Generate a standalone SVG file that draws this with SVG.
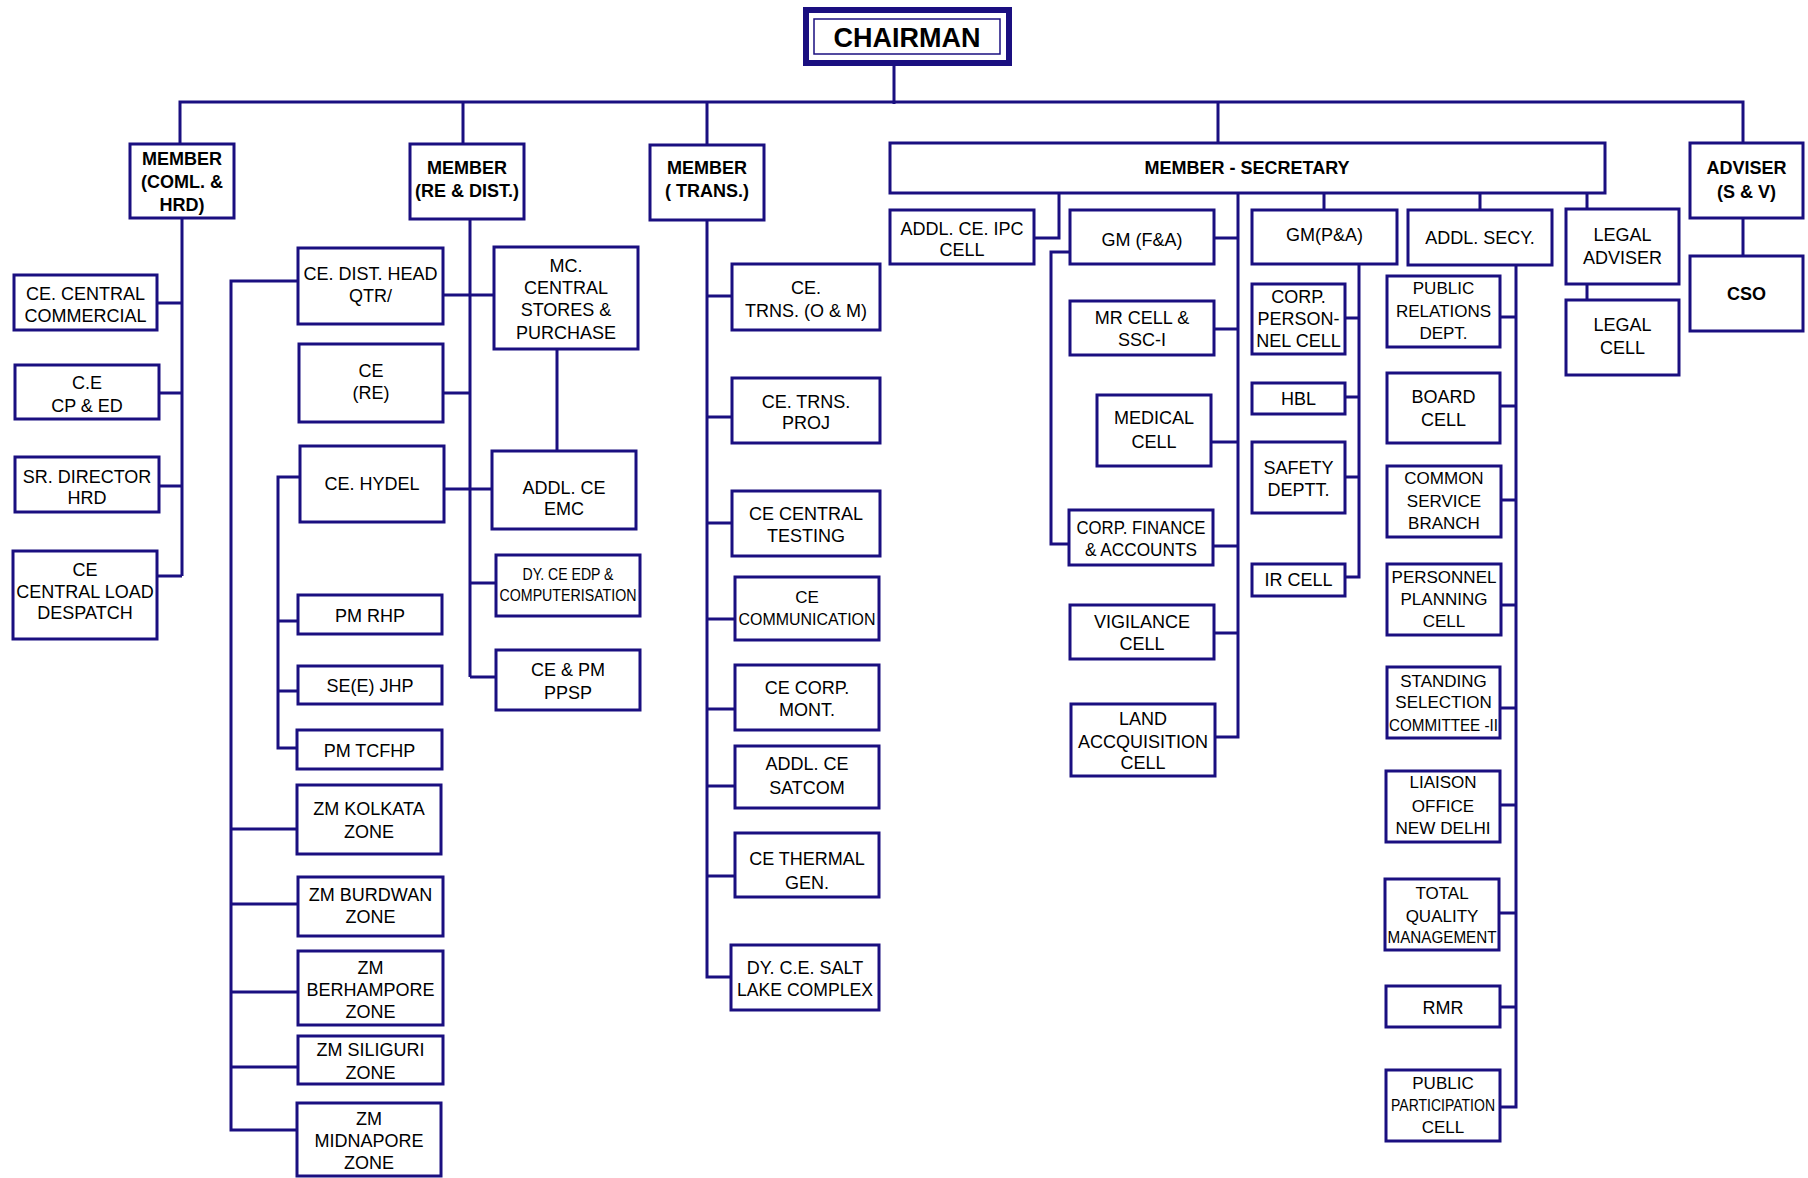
<svg xmlns="http://www.w3.org/2000/svg" width="1808" height="1178" viewBox="0 0 1808 1178">
<style>
.bg{fill:#fff}
.box{fill:#fff;stroke:#1a0f80;stroke-width:3}
.conn{fill:none;stroke:#1a0f80;stroke-width:3;stroke-linejoin:miter}
text{font-family:"Liberation Sans",Arial,sans-serif;font-size:18px;text-anchor:middle;fill:#000}
.b{font-weight:bold}
.s{font-size:17px}
</style>
<rect class="bg" x="0" y="0" width="1808" height="1178"/>
<g id="connectors">
<path class="conn" d="M180,144 V102 H1743 V143 M894,66 V104 M463,102 V144 M707,102 V145 M1218,102 V143
M182,218 V576 M157,303 H182 M159,393 H182 M159,486 H182 M157,576 H182
M470,219 V677 M443,295 H494 M443,393 H470 M444,489 H492 M470,583 H496 M470,677 H496
M557,349 V451
M298,281 H231 V1130 H297 M231,829 H297 M231,904 H298 M231,992 H298 M231,1067 H298
M300,477 H278 V748 H297 M278,621 H298 M278,691 H298
M707,220 V977 H731 M707,296 H732 M707,417 H732 M707,523 H732 M707,619 H735 M707,709 H735 M707,786 H735 M707,876 H735
M1059,193 V238 H1034 M1238,193 V737 H1215 M1214,238 H1238 M1214,329 H1238 M1211,442 H1238 M1213,546 H1238 M1214,633 H1238
M1070,252 H1051 V544 H1069
M1324,193 V210 M1359,264 V577 H1345 M1345,318 H1359 M1345,397 H1359 M1345,477 H1359
M1480,193 V210 M1516,265 V1107 H1500 M1500,317 H1516 M1500,406 H1516 M1500,500 H1516 M1500,605 H1516 M1500,708 H1516 M1500,805 H1516 M1500,913 H1516 M1500,1007 H1516
M1587,193 V209 M1587,284 V300
M1743,218 V256"/>
</g>
<g id="chairman">
<rect x="806" y="10" width="203" height="53" fill="#fff" stroke="#1a0f80" stroke-width="6"/>
<rect x="814" y="19" width="186" height="35" fill="none" stroke="#1a0f80" stroke-width="1.5"/>
<text class="b" x="907" y="47" style="font-size:27px">CHAIRMAN</text>
</g>
<g id="member-coml">
<rect class="box" x="130" y="144" width="104" height="74"/>
<text class="b" x="182" y="164.5">MEMBER</text>
<text class="b" x="182" y="187.5">(COML. &amp;</text>
<text class="b" x="182" y="210.5">HRD)</text>
</g>
<g id="member-re">
<rect class="box" x="410" y="144" width="114" height="75"/>
<text class="b" x="467" y="173.5">MEMBER</text>
<text class="b" x="467" y="196.5">(RE &amp; DIST.)</text>
</g>
<g id="member-trans">
<rect class="box" x="650" y="145" width="114" height="75"/>
<text class="b" x="707" y="173.5">MEMBER</text>
<text class="b" x="707" y="196.5">( TRANS.)</text>
</g>
<g id="member-secretary">
<rect class="box" x="890" y="143" width="715" height="50"/>
<text class="b" x="1247" y="173.5">MEMBER - SECRETARY</text>
</g>
<g id="adviser">
<rect class="box" x="1690" y="143" width="113" height="75"/>
<text class="b" x="1746.5" y="173.5">ADVISER</text>
<text class="b" x="1746.5" y="197.5">(S &amp; V)</text>
</g>
<g id="cso">
<rect class="box" x="1690" y="256" width="113" height="75"/>
<text class="b" x="1746.5" y="299.5">CSO</text>
</g>
<g id="ce-central-commercial">
<rect class="box" x="14" y="275" width="143" height="55"/>
<text x="85.5" y="299.5">CE. CENTRAL</text>
<text x="85.5" y="321.5">COMMERCIAL</text>
</g>
<g id="ce-cp-ed">
<rect class="box" x="15" y="365" width="144" height="54"/>
<text x="87" y="388.5">C.E</text>
<text x="87" y="411.5">CP &amp; ED</text>
</g>
<g id="sr-director-hrd">
<rect class="box" x="15" y="457" width="144" height="55"/>
<text x="87" y="482.5">SR. DIRECTOR</text>
<text x="87" y="503.5">HRD</text>
</g>
<g id="ce-central-load">
<rect class="box" x="13" y="551" width="144" height="88"/>
<text x="85" y="575.5">CE</text>
<text x="85" y="597.5">CENTRAL LOAD</text>
<text x="85" y="618.5">DESPATCH</text>
</g>
<g id="ce-dist-head">
<rect class="box" x="298" y="248" width="145" height="76"/>
<text x="370.5" y="279.5">CE. DIST. HEAD</text>
<text x="370.5" y="301.5">QTR/</text>
</g>
<g id="ce-re">
<rect class="box" x="299" y="344" width="144" height="78"/>
<text x="371" y="376.5">CE</text>
<text x="371" y="398.5">(RE)</text>
</g>
<g id="ce-hydel">
<rect class="box" x="300" y="446" width="144" height="76"/>
<text x="372" y="489.5">CE. HYDEL</text>
</g>
<g id="pm-rhp">
<rect class="box" x="298" y="595" width="144" height="39"/>
<text x="370" y="621.5">PM RHP</text>
</g>
<g id="se-jhp">
<rect class="box" x="298" y="666" width="144" height="38"/>
<text x="370" y="691.5">SE(E) JHP</text>
</g>
<g id="pm-tcfhp">
<rect class="box" x="297" y="730" width="145" height="39"/>
<text x="369.5" y="756.5">PM TCFHP</text>
</g>
<g id="zm-kolkata">
<rect class="box" x="297" y="785" width="144" height="69"/>
<text x="369" y="814.5">ZM KOLKATA</text>
<text x="369" y="837.5">ZONE</text>
</g>
<g id="zm-burdwan">
<rect class="box" x="298" y="877" width="145" height="59"/>
<text x="370.5" y="900.5">ZM BURDWAN</text>
<text x="370.5" y="922.5">ZONE</text>
</g>
<g id="zm-berhampore">
<rect class="box" x="298" y="951" width="145" height="74"/>
<text x="370.5" y="973.5">ZM</text>
<text x="370.5" y="995.5">BERHAMPORE</text>
<text x="370.5" y="1017.5">ZONE</text>
</g>
<g id="zm-siliguri">
<rect class="box" x="298" y="1036" width="145" height="48"/>
<text x="370.5" y="1055.5">ZM SILIGURI</text>
<text x="370.5" y="1078.5">ZONE</text>
</g>
<g id="zm-midnapore">
<rect class="box" x="297" y="1103" width="144" height="73"/>
<text x="369" y="1124.5">ZM</text>
<text x="369" y="1146.5">MIDNAPORE</text>
<text x="369" y="1168.5">ZONE</text>
</g>
<g id="mc-central-stores">
<rect class="box" x="494" y="247" width="144" height="102"/>
<text x="566" y="271.5">MC.</text>
<text x="566" y="293.5">CENTRAL</text>
<text x="566" y="315.5">STORES &amp;</text>
<text x="566" y="338.5">PURCHASE</text>
</g>
<g id="addl-ce-emc">
<rect class="box" x="492" y="451" width="144" height="78"/>
<text x="564" y="493.5">ADDL. CE</text>
<text x="564" y="514.5">EMC</text>
</g>
<g id="dy-ce-edp">
<rect class="box" x="496" y="555" width="144" height="61"/>
<text class="s" x="568" y="580" textLength="91" lengthAdjust="spacingAndGlyphs">DY. CE EDP &amp;</text>
<text class="s" x="568" y="601" textLength="137" lengthAdjust="spacingAndGlyphs">COMPUTERISATION</text>
</g>
<g id="ce-pm-ppsp">
<rect class="box" x="496" y="650" width="144" height="60"/>
<text x="568" y="675.5">CE &amp; PM</text>
<text x="568" y="698.5">PPSP</text>
</g>
<g id="ce-trns-om">
<rect class="box" x="732" y="264" width="148" height="66"/>
<text x="806" y="293.5">CE.</text>
<text x="806" y="316.5">TRNS. (O &amp; M)</text>
</g>
<g id="ce-trns-proj">
<rect class="box" x="732" y="378" width="148" height="65"/>
<text x="806" y="407.5">CE. TRNS.</text>
<text x="806" y="428.5">PROJ</text>
</g>
<g id="ce-central-testing">
<rect class="box" x="732" y="491" width="148" height="65"/>
<text x="806" y="519.5">CE CENTRAL</text>
<text x="806" y="541.5">TESTING</text>
</g>
<g id="ce-communication">
<rect class="box" x="735" y="577" width="144" height="63"/>
<text class="s" x="807" y="603">CE</text>
<text class="s" x="807" y="625" textLength="137" lengthAdjust="spacingAndGlyphs">COMMUNICATION</text>
</g>
<g id="ce-corp-mont">
<rect class="box" x="735" y="665" width="144" height="65"/>
<text x="807" y="693.5">CE CORP.</text>
<text x="807" y="715.5">MONT.</text>
</g>
<g id="addl-ce-satcom">
<rect class="box" x="735" y="746" width="144" height="62"/>
<text x="807" y="769.5">ADDL. CE</text>
<text x="807" y="793.5">SATCOM</text>
</g>
<g id="ce-thermal-gen">
<rect class="box" x="735" y="833" width="144" height="64"/>
<text x="807" y="864.5">CE THERMAL</text>
<text x="807" y="888.5">GEN.</text>
</g>
<g id="dy-ce-salt-lake">
<rect class="box" x="731" y="945" width="148" height="65"/>
<text x="805" y="973.5">DY. C.E. SALT</text>
<text x="805" y="995.5" textLength="136" lengthAdjust="spacingAndGlyphs">LAKE COMPLEX</text>
</g>
<g id="addl-ce-ipc">
<rect class="box" x="890" y="210" width="144" height="54"/>
<text x="962" y="234.5">ADDL. CE. IPC</text>
<text x="962" y="255.5">CELL</text>
</g>
<g id="gm-fa">
<rect class="box" x="1070" y="210" width="144" height="54"/>
<text x="1142" y="245.5">GM (F&amp;A)</text>
</g>
<g id="mr-cell">
<rect class="box" x="1070" y="301" width="144" height="54"/>
<text x="1142" y="323.5">MR CELL &amp;</text>
<text x="1142" y="345.5">SSC-I</text>
</g>
<g id="medical-cell">
<rect class="box" x="1097" y="395" width="114" height="71"/>
<text x="1154" y="423.5">MEDICAL</text>
<text x="1154" y="447.5">CELL</text>
</g>
<g id="corp-finance">
<rect class="box" x="1069" y="510" width="144" height="55"/>
<text x="1141" y="533.5" textLength="129" lengthAdjust="spacingAndGlyphs">CORP. FINANCE</text>
<text x="1141" y="555.5" textLength="112" lengthAdjust="spacingAndGlyphs">&amp; ACCOUNTS</text>
</g>
<g id="vigilance-cell">
<rect class="box" x="1070" y="605" width="144" height="54"/>
<text x="1142" y="627.5">VIGILANCE</text>
<text x="1142" y="649.5">CELL</text>
</g>
<g id="land-acq">
<rect class="box" x="1071" y="704" width="144" height="72"/>
<text x="1143" y="724.5">LAND</text>
<text x="1143" y="747.5">ACCQUISITION</text>
<text x="1143" y="768.5">CELL</text>
</g>
<g id="gm-pa">
<rect class="box" x="1252" y="210" width="145" height="54"/>
<text x="1324.5" y="240.5">GM(P&amp;A)</text>
</g>
<g id="corp-personnel">
<rect class="box" x="1252" y="284" width="93" height="70"/>
<text x="1298.5" y="302.5">CORP.</text>
<text x="1298.5" y="324.5">PERSON-</text>
<text x="1298.5" y="346.5">NEL CELL</text>
</g>
<g id="hbl">
<rect class="box" x="1252" y="383" width="93" height="31"/>
<text x="1298.5" y="404.5">HBL</text>
</g>
<g id="safety">
<rect class="box" x="1252" y="442" width="93" height="71"/>
<text x="1298.5" y="473.5">SAFETY</text>
<text x="1298.5" y="495.5">DEPTT.</text>
</g>
<g id="ir-cell">
<rect class="box" x="1252" y="564" width="93" height="32"/>
<text x="1298.5" y="585.5">IR CELL</text>
</g>
<g id="addl-secy">
<rect class="box" x="1408" y="210" width="144" height="55"/>
<text x="1480" y="243.5">ADDL. SECY.</text>
</g>
<g id="public-relations">
<rect class="box" x="1387" y="276" width="113" height="71"/>
<text class="s" x="1443.5" y="294">PUBLIC</text>
<text class="s" x="1443.5" y="317">RELATIONS</text>
<text class="s" x="1443.5" y="339">DEPT.</text>
</g>
<g id="board-cell">
<rect class="box" x="1387" y="373" width="113" height="70"/>
<text x="1443.5" y="402.5">BOARD</text>
<text x="1443.5" y="425.5">CELL</text>
</g>
<g id="common-service">
<rect class="box" x="1387" y="466" width="114" height="71"/>
<text class="s" x="1444" y="484">COMMON</text>
<text class="s" x="1444" y="507">SERVICE</text>
<text class="s" x="1444" y="529">BRANCH</text>
</g>
<g id="personnel-planning">
<rect class="box" x="1387" y="564" width="114" height="71"/>
<text class="s" x="1444" y="583">PERSONNEL</text>
<text class="s" x="1444" y="605">PLANNING</text>
<text class="s" x="1444" y="627">CELL</text>
</g>
<g id="standing-selection">
<rect class="box" x="1387" y="667" width="113" height="71"/>
<text class="s" x="1443.5" y="687">STANDING</text>
<text class="s" x="1443.5" y="708">SELECTION</text>
<text class="s" x="1443.5" y="731" textLength="109" lengthAdjust="spacingAndGlyphs">COMMITTEE -II</text>
</g>
<g id="liaison-office">
<rect class="box" x="1386" y="771" width="114" height="71"/>
<text class="s" x="1443" y="788">LIAISON</text>
<text class="s" x="1443" y="812">OFFICE</text>
<text class="s" x="1443" y="834" textLength="95" lengthAdjust="spacingAndGlyphs">NEW DELHI</text>
</g>
<g id="tqm">
<rect class="box" x="1385" y="879" width="114" height="71"/>
<text class="s" x="1442" y="899">TOTAL</text>
<text class="s" x="1442" y="922">QUALITY</text>
<text class="s" x="1442" y="943" textLength="109" lengthAdjust="spacingAndGlyphs">MANAGEMENT</text>
</g>
<g id="rmr">
<rect class="box" x="1386" y="986" width="114" height="41"/>
<text x="1443" y="1013.5">RMR</text>
</g>
<g id="public-participation">
<rect class="box" x="1386" y="1070" width="114" height="71"/>
<text class="s" x="1443" y="1089">PUBLIC</text>
<text class="s" x="1443" y="1111" textLength="104" lengthAdjust="spacingAndGlyphs">PARTICIPATION</text>
<text class="s" x="1443" y="1133">CELL</text>
</g>
<g id="legal-adviser">
<rect class="box" x="1566" y="209" width="113" height="75"/>
<text x="1622.5" y="240.5">LEGAL</text>
<text x="1622.5" y="263.5">ADVISER</text>
</g>
<g id="legal-cell">
<rect class="box" x="1566" y="300" width="113" height="75"/>
<text x="1622.5" y="330.5">LEGAL</text>
<text x="1622.5" y="353.5">CELL</text>
</g>
</svg>
